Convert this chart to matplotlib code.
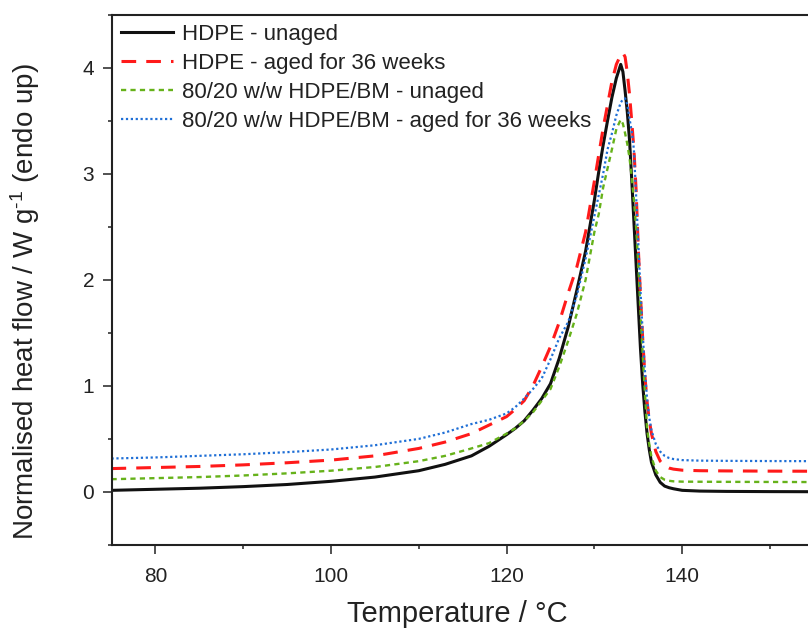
import matplotlib
matplotlib.use("Agg")
import matplotlib.pyplot as plt
from matplotlib.ticker import MultipleLocator

plt.rcParams['font.family'] = ['Liberation Sans', 'DejaVu Sans']
plt.rcParams['mathtext.fontset'] = 'custom'
plt.rcParams['mathtext.rm'] = 'Liberation Sans'
plt.rcParams['mathtext.it'] = 'Liberation Sans:italic'
plt.rcParams['mathtext.bf'] = 'Liberation Sans:bold'

temperature = [75, 80, 85, 90, 95, 100, 105, 110, 113, 116, 118, 120, 121, 122, 123, 124,
               125, 126, 127, 128, 129, 130, 130.5, 131, 131.5, 132, 132.5, 133, 133.25,
               133.5, 133.75, 134, 134.25, 134.5, 134.75, 135, 135.25, 135.5, 135.75, 136,
               136.25, 136.5, 137, 137.5, 138, 138.5, 139, 140, 142, 145, 150, 155, 160]

hdpe_unaged = [0.015, 0.025, 0.035, 0.05, 0.07, 0.10, 0.14, 0.20, 0.26, 0.34, 0.43, 0.54, 0.60,
               0.67, 0.77, 0.88, 1.02, 1.26, 1.55, 1.90, 2.27, 2.75, 3.02, 3.27, 3.50, 3.72,
               3.90, 4.03, 3.96, 3.78, 3.58, 3.32, 2.95, 2.55, 2.15, 1.75, 1.35, 1.02, 0.76,
               0.55, 0.40, 0.28, 0.16, 0.09, 0.055, 0.04, 0.03, 0.015, 0.008, 0.005, 0.003,
               0.002, 0.0]

hdpe_aged = [0.22, 0.23, 0.24, 0.255, 0.275, 0.30, 0.34, 0.41, 0.47, 0.55, 0.63, 0.71, 0.78,
             0.86, 1.00, 1.18, 1.37, 1.60, 1.87, 2.12, 2.45, 2.93, 3.18, 3.43, 3.65, 3.87,
             4.03, 4.12, 4.14, 4.10, 3.95, 3.75, 3.50, 3.23, 2.85, 2.30, 1.85, 1.45, 1.10,
             0.85, 0.68, 0.55, 0.38, 0.29, 0.245, 0.225, 0.215, 0.205, 0.20, 0.198, 0.196,
             0.195, 0.195]

blend_unaged = [0.12, 0.13, 0.14, 0.155, 0.175, 0.20, 0.235, 0.29, 0.34, 0.41, 0.46, 0.55,
                0.60, 0.67, 0.75, 0.86, 0.97, 1.18, 1.42, 1.68, 2.00, 2.45, 2.62, 2.87, 3.05,
                3.23, 3.42, 3.51, 3.47, 3.38, 3.28, 3.15, 2.97, 2.75, 2.50, 2.15, 1.70, 1.30,
                0.95, 0.60, 0.45, 0.33, 0.20, 0.14, 0.115, 0.105, 0.10, 0.097, 0.096, 0.095,
                0.094, 0.093, 0.093]

blend_aged = [0.315, 0.325, 0.34, 0.355, 0.375, 0.40, 0.44, 0.50, 0.56, 0.64, 0.68, 0.74,
              0.80, 0.88, 0.97, 1.07, 1.25, 1.45, 1.60, 1.85, 2.20, 2.60, 2.80, 3.00, 3.23,
              3.38, 3.55, 3.67, 3.70, 3.71, 3.65, 3.52, 3.40, 3.23, 2.80, 2.35, 1.90, 1.50,
              1.15, 0.88, 0.70, 0.58, 0.45, 0.38, 0.34, 0.32, 0.31, 0.30, 0.295, 0.293,
              0.291, 0.29, 0.29]

labels = ["HDPE - unaged", "HDPE - aged for 36 weeks",
          "80/20 w/w HDPE/BM - unaged", "80/20 w/w HDPE/BM - aged for 36 weeks"]

x_ticks = [80, 100, 120, 140]
y_ticks = [0, 1, 2, 3, 4]

fig = plt.figure(figsize=(8.08, 6.32), dpi=100)
ax = fig.add_axes([0.138, 0.1377, 0.9236, 0.8393])

ax.plot(temperature, hdpe_unaged, color='#111111', lw=2.2, label=labels[0])
ax.plot(temperature, hdpe_aged, color='#ff1a1a', lw=2.2, linestyle=(0, (4.8, 3.3)), label=labels[1])
ax.plot(temperature, blend_unaged, color='#66b21a', lw=1.7, linestyle=(0, (2.2, 1.8)), label=labels[2])
ax.plot(temperature, blend_aged, color='#1f6fd6', lw=1.6, linestyle=(0, (1.0, 1.2)), label=labels[3])

ax.set_xlim(75, 160)
ax.set_ylim(-0.5, 4.5)
ax.set_xticks(x_ticks)
ax.set_xticklabels([str(v) for v in x_ticks])
ax.xaxis.set_minor_locator(MultipleLocator(10))
ax.set_yticks(y_ticks)
ax.set_yticklabels([str(v) for v in y_ticks])
ax.yaxis.set_minor_locator(MultipleLocator(0.5))

for s in ax.spines.values():
    s.set_linewidth(1.5)
    s.set_color('#222222')
ax.tick_params(which='major', direction='out', length=6.5, width=1.1, labelsize=15,
               colors='#222222')
ax.tick_params(axis='x', which='major', pad=9)
ax.tick_params(axis='y', which='major', pad=6)
ax.tick_params(which='minor', direction='out', length=3, width=1.1, colors='#222222')

ax.set_xlabel("Temperature / °C", fontsize=21, color='#222222')
ax.set_ylabel(r"Normalised heat flow / W g$^{\text{-1}}$ (endo up)", fontsize=20, color='#222222')
ax.xaxis.set_label_coords(0.463, -0.104)
ax.yaxis.set_label_coords(-0.093, 0.458)

leg = ax.legend(loc='upper left', bbox_to_anchor=(0.0, 1.0), frameon=False, fontsize=16,
                handlelength=2.35, handletextpad=0.4, labelspacing=0.36, borderaxespad=0.0,
                borderpad=0.42)
for t in leg.get_texts():
    t.set_color('#222222')

fig.savefig("out.png", dpi=100)
